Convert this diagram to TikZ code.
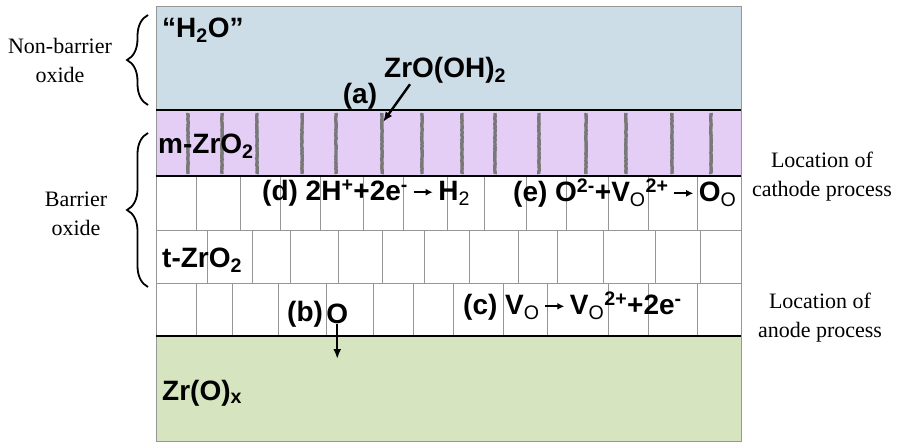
\documentclass[tikz,border=0pt]{standalone}
\usepackage{fontspec}
\setmainfont{Liberation Serif}
\newfontfamily\chemfont{Liberation Sans}
\usetikzlibrary{arrows.meta,positioning,calc,decorations.pathreplacing,decorations.pathmorphing}
\definecolor{WATER}{RGB}{205, 221, 232}
\definecolor{MONO}{RGB}{228, 206, 246}
\definecolor{METAL}{RGB}{215, 228, 192}
\definecolor{GRAIN}{RGB}{120, 120, 120}
\definecolor{JOINT}{RGB}{150, 150, 150}

\tikzset{
  chem/.style={font=\chemfont\bfseries\fontsize{28}{30}\selectfont, inner sep=0pt, anchor=west},
  side/.style={font=\fontsize{22}{29}\selectfont, align=center, inner sep=0pt},
  sbrace/.style={decorate, decoration={brace, amplitude=21pt}, line width=1.8pt},
  grain/.style={GRAIN, line width=3.4pt, decorate, decoration={random steps, segment length=1.5pt, amplitude=0.3pt}},
  joint/.style={JOINT, line width=0.9pt},
  iface/.style={black, line width=1.8pt},
  pointer/.style={-{Latex[length=10pt,width=8pt]}, line width=2.4pt}
}
\newcommand{\lo}[1]{\textsubscript{\mdseries #1}}
\newcommand{\rarr}{\,\tikz[baseline=-0.55ex]\draw[-{Latex[length=7pt,width=7pt]}, line width=2pt] (0,0) -- (19pt,0);\,}

\begin{document}
\begin{tikzpicture}[x=1pt, y=-1pt]
  \useasboundingbox (0,0) rectangle (899,444);

  % Layers
  \fill[WATER] (156,7) rectangle (741,110);
  \fill[MONO] (156,110) rectangle (741,176);
  \fill[white] (156,176) rectangle (741,336);
  \fill[METAL] (156,336) rectangle (741,441);

  % Grain boundaries (m-ZrO2)
  \foreach \gx in {188,222,257,302,336,382,422,462,495,539,586,626,672,711}
    \draw[grain] (\gx,113) -- (\gx,174);

  % Bricks (t-ZrO2)
  \foreach \bx in {196,240,280,320,363,403,447,484,526,566,608,648,697}
    \draw[joint] (\bx,176) -- (\bx,230);
  \foreach \bx in {207,252,290,338,382,424,469,518,557,603,655,700}
    \draw[joint] (\bx,230) -- (\bx,283);
  \foreach \bx in {196,232,278,326,373,413,453,503,547,608,648,697}
    \draw[joint] (\bx,283) -- (\bx,336);
  \draw[joint] (156,230) -- (741,230);
  \draw[joint] (156,283) -- (741,283);

  % Interfaces
  \draw[JOINT, line width=1pt] (156,7) rectangle (741,441);
  \draw[iface] (156,110) -- (741,110);
  \draw[iface] (156,176) -- (741,176);
  \draw[iface] (156,336) -- (741,336);

  % Labels in the layers
  \node[chem] (water) at (162,30) {“H\textsubscript{2}O”};
  \node[chem] (hydrox) at (384,70) {ZrO(OH)\textsubscript{2}};
  \node[chem, anchor=center] (siteA) at (360,96) {(a)};
  \coordinate (tipA) at (383,122);
  \draw[pointer] ($(hydrox.south west)+(26,1)$) -- (tipA);

  \node[chem] (mono) at (158,146) {m-ZrO\textsubscript{2}};
  \node[chem] (cathH) at (262,193)
    {(d) 2H\textsuperscript{+}+2e\textsuperscript{-}\rarr H\lo{2}};
  \node[chem] (cathO) at (513,193)
    {(e) O\textsuperscript{2-}+V\lo{O}\textsuperscript{2+}\rarr O\lo{O}};
  \node[chem] (tetra) at (162,260) {t-ZrO\textsubscript{2}};

  \node[chem] (labB) at (287,314) {(b)};
  \node[chem, right=3pt of labB] (oxyB) {O};
  \coordinate (sinkB) at (oxyB.south |- 0,359);
  \draw[pointer] (oxyB.south) -- (sinkB);

  \node[chem] (anodeV) at (463,306)
    {(c) V\lo{O}\rarr V\lo{O}\textsuperscript{2+}+2e\textsuperscript{-}};
  \node[chem] (metal) at (162,393) {Zr(O)\textsubscript{x}};

  % Side labels
  \node[side] (nonbar) at (60,60) {Non-barrier\\oxide};
  \draw[sbrace] (148,105) -- (148,15);
  \node[side] (barrier) at (76,214) {Barrier\\oxide};
  \draw[sbrace] (148,287) -- (148,133);
  \node[side] (cathloc) at (822,177) {Location of\\cathode process};
  \node[side] (anodloc) at (820,318) {Location of\\anode process};
\end{tikzpicture}
\end{document}
